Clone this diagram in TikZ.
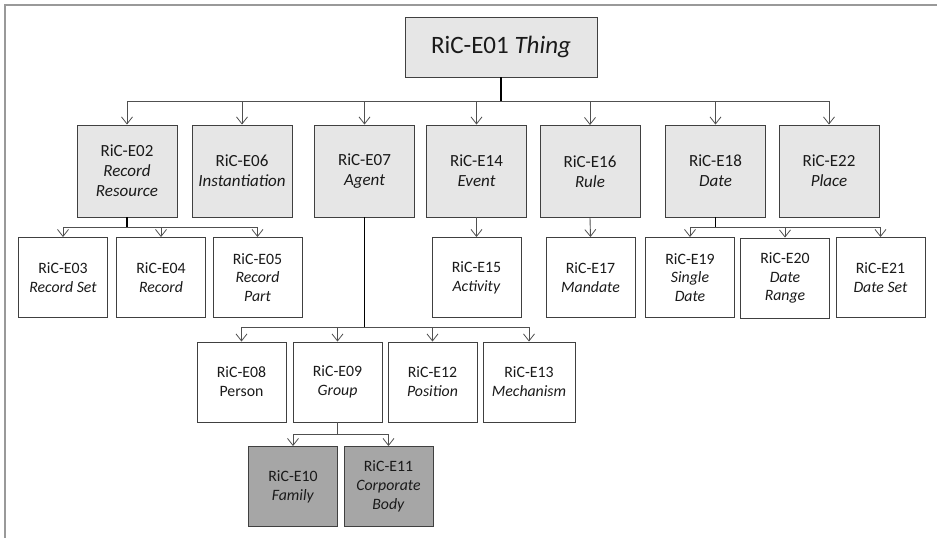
\documentclass[tikz,border=0pt]{standalone}
\usepackage{fontspec}
\setmainfont{Carlito}
\usetikzlibrary{arrows.meta}
\definecolor{boxline}{HTML}{404040}
\definecolor{lightfill}{HTML}{E6E6E6}
\definecolor{darkfill}{HTML}{A6A6A6}
\definecolor{conn}{HTML}{505050}
\definecolor{txt}{HTML}{1A1A1A}
\begin{document}
\begin{tikzpicture}[x=1pt,y=-1pt,
  box/.style={draw=boxline,line width=0.9pt,rectangle,inner sep=0pt,align=center,text=txt},
  top/.style={box,fill=lightfill,minimum width=100pt,minimum height=92pt,font=\fontsize{17}{20}\selectfont},
  sub/.style={box,fill=white,minimum width=89pt,minimum height=80pt,font=\fontsize{15.8}{18.8}\selectfont},
  leaf/.style={sub,fill=darkfill},
  conn/.style={draw=conn,line width=0.9pt,-{Straight Barb[length=7pt,width=11pt,line width=0.8pt]}},
  stem/.style={draw=black,line width=1.3pt}
  ]
\useasboundingbox (0,0) rectangle (937,538);
\draw[draw=gray!80,line width=1.5pt] (5,538) -- (5,5) -- (937,5);

\node[box,fill=lightfill,minimum width=192pt,minimum height=60pt,font=\fontsize{25}{28}\selectfont] (e01) at (501,47) {RiC-E01 \textit{Thing}};

\node[top] (e02) at (127,171) {RiC-E02\\\textit{Record}\\\textit{Resource}};
\node[top] (e06) at (242,171) {RiC-E06\\\textit{Instantiation}};
\node[top] (e07) at (364.5,171) {RiC-E07\\\textit{Agent}};
\node[top] (e14) at (476.5,171) {RiC-E14\\\textit{Event}};
\node[top] (e16) at (590,171.5) {RiC-E16\\\textit{Rule}};
\node[top] (e18) at (715.5,171) {RiC-E18\\\textit{Date}};
\node[top] (e22) at (829,171) {RiC-E22\\\textit{Place}};

\node[sub] (e03) at (63,277.5) {RiC-E03\\\textit{Record Set}};
\node[sub] (e04) at (161,277.5) {RiC-E04\\\textit{Record}};
\node[sub] (e05) at (257.5,277.5) {RiC-E05\\\textit{Record}\\\textit{Part}};
\node[sub] (e15) at (476.5,277.5) {RiC-E15\\\textit{Activity}};
\node[sub] (e17) at (590.5,277.5) {RiC-E17\\\textit{Mandate}};
\node[sub] (e19) at (690,277.5) {RiC-E19\\\textit{Single}\\\textit{Date}};
\node[sub] (e20) at (785,278) {RiC-E20\\\textit{Date}\\\textit{Range}};
\node[sub] (e21) at (880.5,277.5) {RiC-E21\\\textit{Date Set}};

\node[sub] (e08) at (241.5,382) {RiC-E08\\Person};
\node[sub] (e09) at (337.5,382) {RiC-E09\\\textit{Group}};
\node[sub] (e12) at (432.5,382) {RiC-E12\\\textit{Position}};
\node[sub,minimum width=92pt] (e13) at (529,382) {RiC-E13\\\textit{Mechanism}};

\node[leaf] (e10) at (293,486.5) {RiC-E10\\\textit{Family}};
\node[leaf] (e11) at (388.5,486.5) {RiC-E11\\\textit{Corporate}\\\textit{Body}};

\foreach \c in {e02,e06,e07,e14,e16,e18,e22}
  \draw[conn] (e01.south) -- ++(0,24) -| (\c.north);
\foreach \c in {e03,e04,e05}
  \draw[conn] (e02.south) -- ++(0,10) -| (\c.north);
\draw[conn] (e14.south) -- (e15.north);
\draw[conn] (e16.south) -- (e17.north);
\foreach \c in {e19,e20,e21}
  \draw[conn] (e18.south) -- ++(0,10) -| (\c.north);
\foreach \c in {e08,e09,e12,e13}
  \draw[conn] (e07.south) -- ++(0,110) -| (\c.north);
\foreach \c in {e10,e11}
  \draw[conn] (e09.south) -- ++(0,12) -| (\c.north);

\draw[stem] (e01.south) -- ++(0,24);
\draw[stem] (e02.south) -- ++(0,10);
\draw[stem] (e18.south) -- ++(0,10);
\draw[stem] (e07.south) -- ++(0,110);
\end{tikzpicture}
\end{document}
